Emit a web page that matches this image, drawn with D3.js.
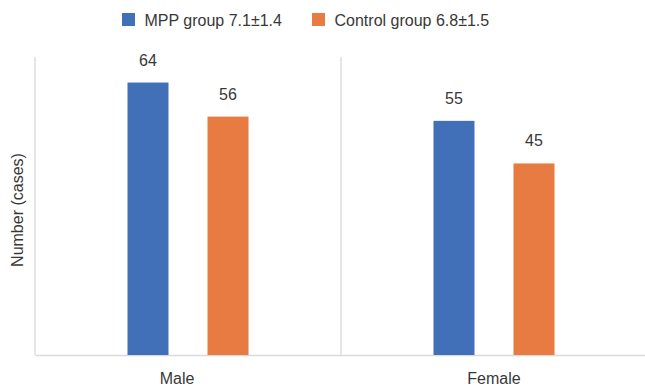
<!DOCTYPE html>
<html>
<head>
<meta charset="utf-8">
<script src="https://cdn.jsdelivr.net/npm/d3@7"></script>
<style>
  html, body { margin: 0; padding: 0; background: #fff; }
  svg { display: block; font-family: "Liberation Sans", Arial, sans-serif; }
</style>
</head>
<body>
<svg id="chart" width="645" height="387"></svg>
<script>
// Gender distribution by group
const categories = ["Male", "Female"];
const seriesNames = ["MPP group 7.1±1.4", "Control group 6.8±1.5"];
const mppValues = [64, 55];
const controlValues = [56, 45];
const seriesColors = ["#4170B9", "#E77B41"];
const yTitle = "Number (cases)";

const svg = d3.select("#chart");
const W = 645, H = 387;
const margin = { left: 35, right: -2, top: 57, bottom: 32 };
const textColor = "#383838";
const fontSize = 16;

const x0 = d3.scaleBand()
  .domain(categories)
  .range([margin.left, W - margin.right])
  .padding(0);

const x1 = d3.scaleBand()
  .domain([0, 1])
  .range([0, x0.bandwidth()])
  .paddingInner(0.4875)
  .paddingOuter(1.156);

const y = d3.scaleLinear()
  .domain([0, 70])
  .range([H - margin.bottom, margin.top]);

const gridColor = "#d9d9d9";

// left axis line
svg.append("line")
  .attr("x1", margin.left).attr("x2", margin.left)
  .attr("y1", y(70)).attr("y2", y(0))
  .attr("stroke", gridColor).attr("stroke-width", 1.3);

// separator between categories
svg.append("line")
  .attr("x1", x0("Female")).attr("x2", x0("Female"))
  .attr("y1", y(70)).attr("y2", y(0))
  .attr("stroke", gridColor).attr("stroke-width", 1.3);

// bottom axis with category labels
const labelShift = { Male: -11, Female: 0 };
const xAxis = svg.append("g")
  .attr("transform", `translate(0,${y(0)})`)
  .call(d3.axisBottom(x0).tickSize(0).tickPadding(17.5));
xAxis.select(".domain").attr("stroke", gridColor).attr("stroke-width", 1.3);
xAxis.selectAll("text")
  .attr("font-size", fontSize).attr("fill", textColor)
  .attr("font-family", "Liberation Sans, Arial, sans-serif")
  .attr("dx", d => labelShift[d]);

const data = categories.map((c, i) => ({ cat: c, vals: [mppValues[i], controlValues[i]] }));

const groups = svg.selectAll("g.cat")
  .data(data).enter().append("g")
  .attr("class", "cat")
  .attr("transform", d => `translate(${x0(d.cat)},0)`);

groups.selectAll("rect")
  .data(d => d.vals.map((v, k) => ({ v, k })))
  .enter().append("rect")
  .attr("x", d => x1(d.k))
  .attr("width", x1.bandwidth())
  .attr("y", d => y(d.v))
  .attr("height", d => y(0) - y(d.v))
  .attr("fill", d => seriesColors[d.k]);

groups.selectAll("text.val")
  .data(d => d.vals.map((v, k) => ({ v, k })))
  .enter().append("text")
  .attr("class", "val")
  .attr("x", d => x1(d.k) + x1.bandwidth() / 2)
  .attr("y", d => y(d.v) - 17)
  .attr("text-anchor", "middle")
  .attr("font-size", fontSize)
  .attr("fill", textColor)
  .text(d => d.v);

// y axis title
svg.append("text")
  .attr("transform", "translate(23,210) rotate(-90)")
  .attr("text-anchor", "middle")
  .attr("font-size", fontSize)
  .attr("fill", textColor)
  .text(yTitle);

// legend
const legendX = [122, 312];
const legend = svg.selectAll("g.legend")
  .data(seriesNames).enter().append("g")
  .attr("class", "legend")
  .attr("transform", (d, i) => `translate(${legendX[i]},13)`);
legend.append("rect")
  .attr("width", 13).attr("height", 13)
  .attr("fill", (d, i) => seriesColors[i]);
legend.append("text")
  .attr("x", 22.5).attr("y", 13.3)
  .attr("font-size", fontSize)
  .attr("fill", textColor)
  .text(d => d);
</script>
</body>
</html>
